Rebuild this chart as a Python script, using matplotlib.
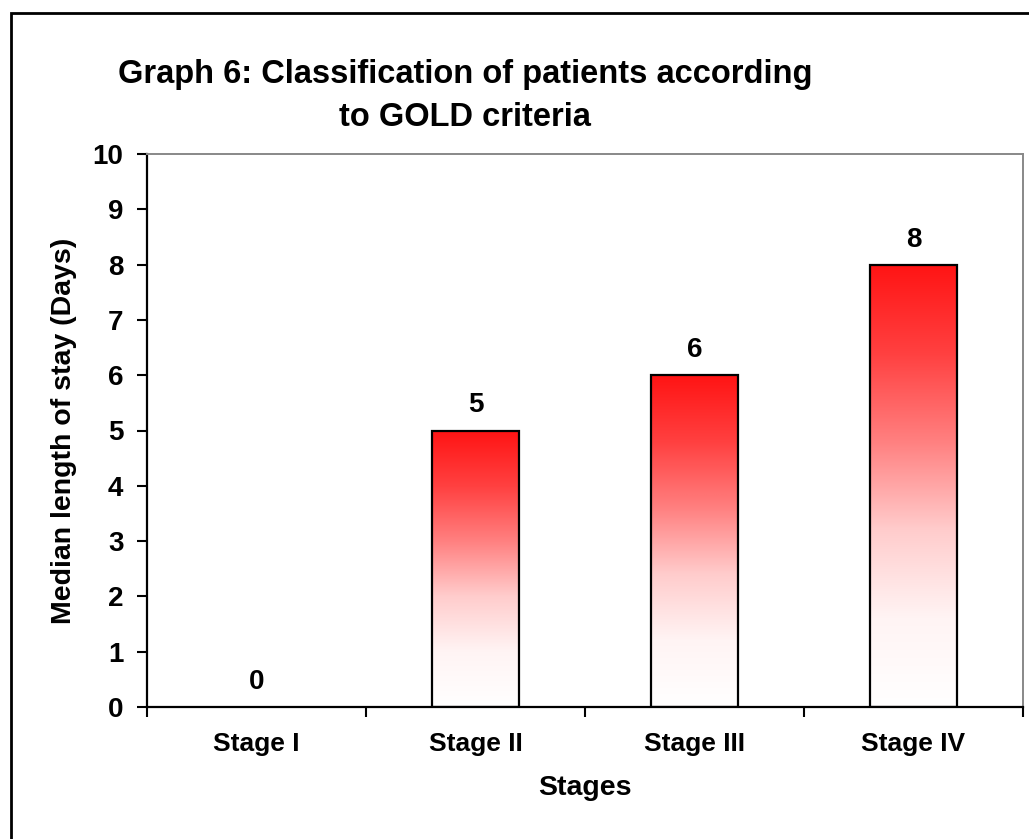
import numpy as np
import matplotlib
matplotlib.use("Agg")
import matplotlib.pyplot as plt
from matplotlib.patches import Rectangle
from matplotlib.colors import LinearSegmentedColormap

stages = ["Stage I", "Stage II", "Stage III", "Stage IV"]
median_stay = [0, 5, 6, 8]
y_ticks = list(range(0, 11))
title_lines = ["Graph 6: Classification of patients according", "to GOLD criteria"]

plt.rcParams["font.family"] = ["Liberation Sans", "DejaVu Sans"]
plt.rcParams["font.weight"] = "bold"

W, H = 1029, 839
fig = plt.figure(figsize=(W / 100, H / 100), dpi=100)
fig.patch.set_facecolor("white")

# outer chart frame (runs off the right and bottom edges)
fig.add_artist(Rectangle((11 / W, -0.05), 1.2, 1 - 13 / H + 0.05,
                         transform=fig.transFigure, fill=False,
                         edgecolor="black", linewidth=2.0))

ax = fig.add_axes([147 / W, 1 - 707 / H, (1023 - 147) / W, (707 - 154) / H])

x = np.arange(len(stages))
bars = ax.bar(x, median_stay, width=0.40, color="none",
              edgecolor="black", linewidth=1.6, zorder=3)

red_white = LinearSegmentedColormap.from_list(
    "red_white", ["#ffffff", "#fff4f4", "#ffcccc", "#ff8080", "#ff4040", "#ff1414"])
grad = np.linspace(0, 1, 256).reshape(-1, 1)
for b in bars:
    h = b.get_height()
    if h <= 0:
        b.set_linewidth(0)
        continue
    x0 = b.get_x()
    im = ax.imshow(grad, cmap=red_white, origin="lower", aspect="auto",
                   extent=(x0, x0 + b.get_width(), 0, h), zorder=2,
                   interpolation="bicubic")
    im.set_clip_path(b)

for xi, v in zip(x, median_stay):
    ax.annotate(str(v), (xi, v), xytext=(0, 13), textcoords="offset points",
                ha="center", va="baseline", fontsize=20, fontweight="bold")

ax.set_xlim(-0.5, len(stages) - 0.5)
ax.set_ylim(0, 10)
ax.set_yticks(y_ticks)
ax.tick_params(axis="y", labelsize=20, length=7, width=1.5, pad=10)

ax.set_xticks(np.arange(len(stages) + 1) - 0.5)
ax.set_xticklabels([])
ax.set_xticks(x, minor=True)
ax.set_xticklabels(stages, minor=True)
ax.tick_params(axis="x", which="major", length=7, width=1.5, direction="out")
ax.tick_params(axis="x", which="minor", length=0, labelsize=19, pad=18)

for side in ("left", "bottom"):
    ax.spines[side].set_linewidth(1.6)
    ax.spines[side].set_color("black")
for side in ("top", "right"):
    ax.spines[side].set_linewidth(1.4)
    ax.spines[side].set_color("#888888")

ax.set_xlabel("Stages", fontsize=20.5, fontweight="bold", labelpad=14)
ax.set_ylabel("Median length of stay (Days)", fontsize=20.5, fontweight="bold", labelpad=11)

fig.text(465 / W, 1 - 83 / H, title_lines[0], ha="center", va="baseline",
         fontsize=23.5, fontweight="bold")
fig.text(465 / W, 1 - 126 / H, title_lines[1], ha="center", va="baseline",
         fontsize=23.5, fontweight="bold")

fig.savefig("out.png", dpi=100)
